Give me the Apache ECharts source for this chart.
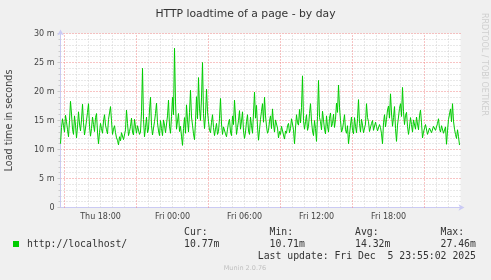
<!DOCTYPE html>
<html><head><meta charset="utf-8">
<script src="https://cdn.jsdelivr.net/npm/echarts@6/dist/echarts.min.js"></script>
<style>html,body{margin:0;padding:0;background:#f0f0f0}#c{width:491px;height:280px}</style>
</head><body><div id="c"></div>
<script>
// time axis in hours since Thu 00:00; one sample every 5 minutes
const startHour = 14 + 40/60;
const stepHour = 1/12;
const loadtimeMs = [
 11.0,13.8,15.3,14.1,13.0,15.9,14.8,13.4,12.2,15.0,18.3,16.1,13.5,12.6,15.8,14.2,12.0,13.9,16.5,14.4,
 13.2,15.1,17.8,14.6,12.5,13.7,15.0,16.4,17.9,14.0,12.3,13.6,15.6,14.3,13.1,15.5,16.2,13.0,11.0,12.9,
 14.5,13.6,12.8,14.9,16.0,14.2,13.4,12.7,15.2,16.3,17.4,15.0,12.6,13.5,14.1,12.9,12.0,11.6,10.8,12.2,
 11.5,12.9,12.6,11.7,11.8,13.4,16.8,14.5,12.4,13.1,14.0,15.4,13.0,12.5,15.2,13.9,12.8,14.1,14.3,12.6,
 13.0,16.5,24.0,15.2,12.2,13.8,15.6,12.9,13.5,16.8,19.0,14.1,12.5,13.7,14.8,16.2,18.0,14.6,13.2,12.4,
 15.0,13.6,12.4,15.1,14.2,12.9,13.0,15.8,18.5,14.0,12.8,15.7,19.0,16.0,27.46,18.2,13.5,14.9,16.2,13.1,
 14.0,12.3,10.71,13.6,15.5,12.8,17.7,15.1,13.0,16.4,20.2,15.6,14.2,12.7,11.7,14.8,19.1,15.3,22.4,17.0,
 15.0,18.9,25.0,16.2,13.6,15.9,20.4,16.6,14.8,13.3,12.9,14.7,16.0,13.8,12.4,13.5,14.5,12.6,13.1,15.4,
 18.8,14.4,12.6,13.9,13.8,12.7,12.2,13.5,14.6,15.2,13.0,12.4,15.8,14.3,18.5,15.6,12.6,13.8,15.0,16.7,
 13.5,14.9,16.5,13.2,11.9,13.0,14.8,16.0,13.2,12.6,15.6,14.1,12.8,16.3,19.9,15.4,17.6,13.9,11.6,13.4,
 15.2,16.6,17.9,14.7,19.0,15.8,14.0,12.8,13.3,14.9,15.8,13.6,17.0,14.4,13.0,15.1,15.3,13.7,12.0,13.1,
 12.6,14.0,13.8,12.5,11.8,13.2,12.8,14.1,14.5,12.9,13.6,15.3,15.0,13.4,11.0,13.7,16.0,14.6,14.2,16.9,
 14.6,17.2,22.7,15.0,13.5,14.8,16.0,13.3,14.0,16.2,17.9,14.9,13.2,12.4,15.0,13.6,11.4,15.7,21.9,15.5,
 14.8,13.4,16.6,15.1,13.5,12.7,15.8,14.0,13.0,15.4,16.3,13.9,14.5,16.1,13.8,15.2,18.0,16.4,21.1,17.3,
 15.0,13.0,13.5,14.7,16.0,13.4,12.8,14.1,11.0,12.6,14.2,15.6,13.3,12.7,15.5,14.0,12.9,15.3,18.6,14.5,
 13.0,15.2,14.2,12.9,12.6,14.4,17.9,15.5,14.8,13.1,13.2,14.5,15.0,13.3,13.6,14.7,14.0,13.2,12.9,14.3,
 13.8,12.7,11.0,14.6,16.0,13.9,15.2,16.8,17.5,15.4,19.6,16.3,14.0,15.5,17.4,13.6,11.4,14.2,15.6,17.1,
 17.9,15.7,20.7,16.5,14.3,15.9,16.4,14.0,12.6,13.9,15.5,14.3,13.0,15.1,14.8,13.5,15.6,14.4,13.4,15.8,
 16.8,14.6,12.0,13.0,13.2,14.3,14.0,12.6,12.8,13.7,13.6,12.9,12.9,14.0,14.2,13.3,13.1,14.5,15.3,13.6,
 13.0,14.1,14.4,12.8,12.7,13.9,10.9,13.2,15.2,16.1,17.0,14.8,17.9,14.9,13.5,12.6,11.9,13.4,12.2,10.77
];
const minorHours = [15,16,17,18,19,20,21,22,23,24,25,26,27,28,29,30,31,32,33,34,35,36,37,38,39,40,41,42,43,44,45,46,47];
const majorHours = [15,21,27,33,39,45];
const labelHours = [18,24,30,36,42];
const labelTexts = ['Thu 18:00','Fri 00:00','Fri 06:00','Fri 12:00','Fri 18:00'];
const yTicks = [0,5,10,15,20,25,30];
const legendName = 'http://localhost/';
const statHeads = ['Cur:','Min:','Avg:','Max:'];
const statVals = ['10.77m','10.71m','14.32m','27.46m'];
const lastUpdate = 'Last update: Fri Dec  5 23:55:02 2025';

const xMin = startHour, xMax = startHour + 400*stepHour;
const pts = loadtimeMs.map((v,i)=>[startHour + i*stepHour, v]);
const axisCol = '#cacaf4';
const redGrid = '#f08888', grayGrid = '#d0d0d0';
const sans = 'DejaVu Sans', mono = 'DejaVu Sans Mono';

const chart = echarts.init(document.getElementById('c'), null, {renderer:'canvas'});
chart.setOption({
  backgroundColor:'#f0f0f0',
  animation:false,
  title:{text:'HTTP loadtime of a page - by day', left:'center', top:4,
    textStyle:{fontFamily:sans, fontSize:10.8, fontWeight:'normal', color:'#333'}},
  grid:{left:60.5, top:33.5, width:400, height:174, show:true, backgroundColor:'#ffffff', borderWidth:0,
    containLabel:false, outerBoundsMode:'none'},
  xAxis:{
    type:'value', min:xMin, max:xMax,
    axisLine:{show:true, lineStyle:{color:axisCol}, symbol:['none','arrow'], symbolSize:[5,6], symbolOffset:[0,4]},
    axisTick:{show:false},
    axisLabel:{show:true, customValues:labelHours, margin:5, fontFamily:sans, fontSize:8, color:'#444',
      formatter:(v)=>{const k=labelHours.indexOf(Math.round(v)); return k>=0?labelTexts[k]:'';}},
    splitLine:{show:false}
  },
  yAxis:{
    type:'value', min:0, max:30, interval:5,
    axisLine:{show:true, lineStyle:{color:axisCol}, symbol:['none','arrow'], symbolSize:[5,6], symbolOffset:[0,4]},
    axisTick:{show:true, length:3, lineStyle:{color:'#cccccc'}},
    minorTick:{show:true, splitNumber:5, length:2, lineStyle:{color:'#cccccc'}},
    splitLine:{show:true, lineStyle:{color:redGrid, type:[1,2]}},
    minorSplitLine:{show:true, lineStyle:{color:grayGrid, type:[1,2]}},
    axisLabel:{fontFamily:sans, fontSize:8, color:'#444', margin:6,
      formatter:(v)=> yTicks.indexOf(v)>=0 ? (v===0?'0':v+' m') : ''},
    name:'Load time in seconds', nameLocation:'middle', nameGap:46,
    nameTextStyle:{fontFamily:sans, fontSize:9.6, color:'#444'}
  },
  series:[
    {type:'line', data:[], z:1, silent:true,
      markLine:{silent:true, symbol:'none', animation:false, label:{show:false},
        lineStyle:{color:grayGrid, type:[1,2], width:1},
        data:minorHours.filter(h=>majorHours.indexOf(h)<0).map(h=>({xAxis:h}))}},
    {type:'line', data:[], z:2, silent:true,
      markLine:{silent:true, symbol:'none', animation:false, label:{show:false},
        lineStyle:{color:redGrid, type:[1,2], width:1},
        data:majorHours.map(h=>({xAxis:h}))}},
    {type:'line', data:pts, showSymbol:false, symbol:'none',
      lineStyle:{color:'#00cc00', width:1}, z:5}
  ],
  graphic:[
    {type:'text', x:484, y:13, rotation:-Math.PI/2,
      style:{text:'RRDTOOL / TOBI OETIKER', fontFamily:sans, fontSize:8, fill:'#cfcfcf', textVerticalAlign:'middle'}},
    {type:'rect', shape:{x:13, y:241, width:6, height:6}, style:{fill:'#00cc00'}},
    {type:'text', x:27, y:244, style:{text:legendName, fontFamily:mono, fontSize:9.8, fill:'#333', textVerticalAlign:'middle'}},
    ...statHeads.map((t,k)=>({type:'text', x:184+k*85.5, y:232.5, style:{text:t, fontFamily:mono, fontSize:9.8, fill:'#333', textVerticalAlign:'middle'}})),
    ...statVals.map((t,k)=>({type:'text', x:184+k*85.5, y:244.3, style:{text:t, fontFamily:mono, fontSize:9.8, fill:'#333', textVerticalAlign:'middle'}})),
    {type:'text', x:476, y:256.5, style:{text:lastUpdate, fontFamily:mono, fontSize:9.8, fill:'#333', textAlign:'right', textVerticalAlign:'middle'}},
    {type:'text', x:245, y:268, style:{text:'Munin 2.0.76', fontFamily:sans, fontSize:6.5, fill:'#c0c0c0', textAlign:'center', textVerticalAlign:'middle'}}
  ]
});
</script>
</body></html>
